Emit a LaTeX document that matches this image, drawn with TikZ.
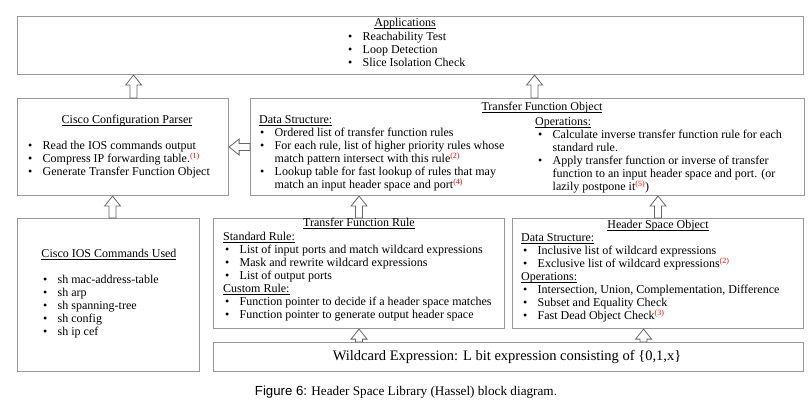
\documentclass[tikz,border=0pt]{standalone}
\usepackage{fontspec}
\setmainfont{Liberation Serif}
\newfontfamily\arialf{Liberation Sans}
\usetikzlibrary{calc}
\newcommand\ulx[1]{\setbox0\hbox{#1}\rlap{\rule[-1.9pt]{\wd0}{0.8pt}}\box0}
\newcommand\refn[1]{\textsuperscript{\color{red}(#1)}}
\newcommand\bul[1]{\makebox[14.5pt][l]{\textbullet}#1}
\begin{document}
\begin{tikzpicture}[x=1pt,y=-1pt,
  box/.style={draw=black!40, line width=1.1pt, anchor=north west, inner sep=0pt, fill=white},
  tx/.style={anchor=west, inner sep=0pt, text height=8pt, text depth=2.6pt, font=\fontsize{12}{13}\selectfont},
  ttl/.style={tx, anchor=center},
  harrow/.style={draw=black!60, fill=white, line width=0.8pt, line join=miter,
    to path={let \p1=(\tikztostart), \p2=(\tikztotarget), \p3=($(\p2)!10pt!(\p1)$) in
      ($(\p1)!3.5pt!90:(\p2)$) -- ($(\p3)!3.5pt!90:(\p2)$) -- ($(\p3)!8pt!90:(\p2)$) -- (\p2)
      -- ($(\p3)!8pt!-90:(\p2)$) -- ($(\p3)!3.5pt!-90:(\p2)$) -- ($(\p1)!3.5pt!-90:(\p2)$) -- cycle}}]
\fill[white] (0,0) rectangle (812,409);
\useasboundingbox (0,0) rectangle (812,409);
% boxes
\node[box, minimum width=786pt, minimum height=58pt] (app) at (17,16) {};
\node[box, minimum width=211pt, minimum height=97pt] (parser) at (17,98) {};
\node[box, minimum width=554pt, minimum height=97pt] (tfo) at (250,98) {};
\node[box, minimum width=182pt, minimum height=153pt] (ios) at (17,218) {};
\node[box, minimum width=291pt, minimum height=110pt] (tfr) at (213,218) {};
\node[box, minimum width=291pt, minimum height=110pt] (hso) at (512,218) {};
\node[box, minimum width=590pt, minimum height=29pt] (wild) at (213,342) {};
% Applications
\node[ttl] (appt) at (405,24) {\ulx{Applications}};
\node[tx] (app1) at (348,38) {\bul{Reachability Test}};
\node[tx] (app2) at (348,51) {\bul{Loop Detection}};
\node[tx] (app3) at (348,64) {\bul{Slice Isolation Check}};
% Parser
\node[ttl] (part) at (127,121) {\ulx{Cisco Configuration Parser}};
\node[tx] (par1) at (28,147) {\bul{Read the IOS commands output}};
\node[tx] (par2) at (28,160) {\bul{Compress IP forwarding table.\refn{1}}};
\node[tx] (par3) at (28,173) {\bul{Generate Transfer Function Object}};
% TFO
\node[ttl] (tfot) at (542,108) {\ulx{Transfer Function Object}};
\node[tx] (tfod) at (259,121) {\ulx{Data Structure:}};
\node[tx] (tfo1) at (260,134) {\bul{Ordered list of transfer function rules}};
\node[tx] (tfo2) at (260,147) {\bul{For each rule, list of higher priority rules whose}};
\node[tx] (tfo3) at (274.5,160) {match pattern intersect with this rule\refn{2}};
\node[tx] (tfo4) at (260,173) {\bul{Lookup table for fast lookup of rules that may}};
\node[tx] (tfo5) at (274.5,186) {match an input header space and port\refn{4}};
\node[tx] (tfoo) at (535,123) {\ulx{Operations:}};
\node[tx] (tfo6) at (538,136) {\bul{Calculate inverse transfer function rule for each}};
\node[tx] (tfo7) at (552.5,149) {standard rule.};
\node[tx] (tfo8) at (538,162) {\bul{Apply transfer function or inverse of transfer}};
\node[tx] (tfo9) at (552.5,175) {function to an input header space and port. (or};
\node[tx] (tfo10) at (552.5,188) {lazily postpone it\refn{5})};
% IOS
\node[ttl] (iost) at (109,255) {\ulx{Cisco IOS Commands Used}};
\node[tx] (ios1) at (43,281) {\bul{sh mac-address-table}};
\node[tx] (ios2) at (43,294) {\bul{sh arp}};
\node[tx] (ios3) at (43,307) {\bul{sh spanning-tree}};
\node[tx] (ios4) at (43,320) {\bul{sh config}};
\node[tx] (ios5) at (43,333) {\bul{sh ip cef}};
% TFR
\node[ttl] (tfrt) at (359,224) {\ulx{Transfer Function Rule}};
\node[tx] (tfrs) at (223,238) {\ulx{Standard Rule:}};
\node[tx] (tfr1) at (225,251) {\bul{List of input ports and match wildcard expressions}};
\node[tx] (tfr2) at (225,264) {\bul{Mask and rewrite wildcard expressions}};
\node[tx] (tfr3) at (225,277) {\bul{List of output ports}};
\node[tx] (tfrc) at (223,290) {\ulx{Custom Rule:}};
\node[tx] (tfr4) at (225,303) {\bul{Function pointer to decide if a header space matches}};
\node[tx] (tfr5) at (225,316) {\bul{Function pointer to generate output header space}};
% HSO
\node[ttl] (hsot) at (658,226) {\ulx{Header Space Object}};
\node[tx] (hsod) at (521,239) {\ulx{Data Structure:}};
\node[tx] (hso1) at (523,252) {\bul{Inclusive list of wildcard expressions}};
\node[tx] (hso2) at (523,265) {\bul{Exclusive list of wildcard expressions\refn{2}}};
\node[tx] (hsoo) at (521,278) {\ulx{Operations:}};
\node[tx] (hso3) at (523,291) {\bul{Intersection, Union, Complementation, Difference}};
\node[tx] (hso4) at (523,304) {\bul{Subset and Equality Check}};
\node[tx] (hso5) at (523,317) {\bul{Fast Dead Object Check\refn{3}}};
% Wildcard
\node[inner sep=0pt, font=\fontsize{14.5}{17}\selectfont] (wildt) at (507,357) {Wildcard Expression: L bit expression consisting of \{0,1,x\}};
% caption
\node[inner sep=0pt, font=\fontsize{13.2}{15}\selectfont] (cap) at (406,392) {{\arialf Figure 6:} Header Space Library (Hassel) block diagram.};
% arrows
\coordinate (c1) at ([xshift=10.5pt]parser.north);
\coordinate (c2) at ([xshift=7pt]tfo.north);
\coordinate (c3) at ([xshift=4pt]ios.north);
\coordinate (c4) at (tfr.north);
\coordinate (c5) at (hso.north);
\coordinate (c6) at (tfr.south);
\coordinate (c7) at ([xshift=-14.5pt]hso.south);
\draw[harrow] (c1) to (c1 |- app.south);
\draw[harrow] (c2) to (c2 |- app.south);
\draw[harrow] (c3) to (c3 |- parser.south);
\draw[harrow] (c4) to (c4 |- tfo.south);
\draw[harrow] (c5) to (c5 |- tfo.south);
\draw[harrow] (c6 |- wild.north) to (c6);
\draw[harrow] (c7 |- wild.north) to (c7);
\draw[harrow] (tfo.west) to (parser.east);
\end{tikzpicture}
\end{document}
